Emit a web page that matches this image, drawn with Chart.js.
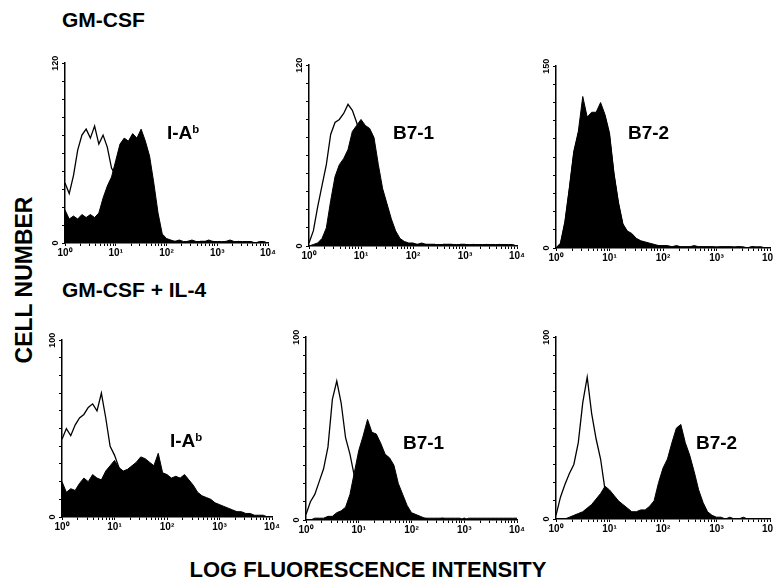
<!DOCTYPE html>
<html>
<head>
<meta charset="utf-8">
<script src="https://cdn.jsdelivr.net/npm/chart.js@4.4.1/dist/chart.umd.min.js"></script>
<style>
  html, body { margin: 0; padding: 0; background: #fff; overflow: hidden; }
  #figure { position: relative; width: 773px; height: 587px; font-family: 'Liberation Sans', Arial, sans-serif; color: #000; }
  #figure canvas { position: absolute; }
  .lbl { position: absolute; font-weight: bold; line-height: 1; white-space: nowrap; }
  .lbl sup { font-size: 0.6em; vertical-align: 0.55em; }
</style>
</head>
<body>
<div id="figure">
  <div class="lbl" style="left:62px; top:9px; font-size:21px;">GM-CSF</div>
  <div class="lbl" style="left:62px; top:279px; font-size:21px;">GM-CSF + IL-4</div>
  <div class="lbl" style="left:24px; top:280px; font-size:23px; transform: translate(-50%, -50%) rotate(-90deg);">CELL NUMBER</div>
  <div class="lbl" style="left:368px; top:559px; font-size:22px; transform: translateX(-50%);">LOG FLUORESCENCE INTENSITY</div>
</div>

<script>
// log decades on the x axis, 12 channels per decade
const decadeLabels = ['10⁰', '10¹', '10²', '10³', '10⁴'];
const binsPerDecade = 12;

const markerNames = ['I-A', 'B7-1', 'B7-2', 'I-A', 'B7-1', 'B7-2'];
const yMaxLabels = [120, 120, 150, 100, 100, 100];

// GM-CSF row
const gmIaFilled = [22,16,18,16,19,17,19,17,20,30,38,44,55,66,70,68,73,70,76,68,58,40,20,6,3,
  2,1,2,1,1,2,1,1,1,2,1,1,1,1,2,1,1,1,1,1,0,1,1,0];
const gmIaOpen = [40,33,45,62,72,76,70,78,66,72,64,50,45,35,25,18,12,8,5,3,2,
  1,1,1,1,1,1,1,0,1,1,0,1,1,0,1,0,0,1,0,0,1,0,0,0,0,0,0,0];
const gmB71Filled = [0,1,2,5,12,30,46,54,58,64,76,80,84,80,78,72,54,38,28,18,10,5,3,2,2,
  1,2,1,1,1,1,1,1,1,1,1,1,1,1,1,1,1,1,1,1,1,1,1,0];
const gmB71Open = [2,10,26,40,54,74,82,84,88,94,90,82,70,55,40,28,18,10,6,3,2,
  1,1,1,1,1,1,1,1,1,0,1,1,1,0,1,1,0,1,0,0,1,0,0,1,0,0,0,0];
const gmB72Filled = [0,4,22,50,80,96,125,108,112,112,120,110,95,62,38,20,14,12,8,6,5,4,3,2,2,
  2,1,2,1,1,1,2,1,1,1,1,1,1,1,1,1,1,1,0,1,1,1,0,0];
const gmB72Open = [0,3,20,48,78,94,110,104,108,110,116,108,92,60,36,19,13,11,7,5,4,3,2,2,1,
  1,1,1,1,1,1,1,1,1,1,1,0,1,1,1,0,1,0,0,1,0,0,0,0];

// GM-CSF + IL-4 row
const il4IaFilled = [20,14,16,15,19,22,20,24,22,21,26,29,32,28,26,27,29,31,34,33,31,29,36,25,24,
  22,23,22,24,21,18,14,12,11,10,8,7,6,5,4,3,3,2,2,1,1,1,0,0];
const il4IaOpen = [44,50,46,52,56,58,62,64,60,70,56,40,35,28,20,14,10,6,4,2,
  1,1,1,0,1,1,0,1,0,1,0,0,1,0,0,1,0,0,0,1,0,0,0,0,0,0,0,0,0];
const il4B71Filled = [0,0,1,1,1,2,2,4,5,7,14,26,38,46,55,48,47,42,36,34,30,20,14,8,4,
  3,2,1,1,1,1,1,1,1,1,1,0,1,1,1,1,1,1,1,1,1,1,1,1];
const il4B71Open = [3,10,14,21,28,40,66,76,64,45,36,24,14,8,5,3,2,
  1,1,1,0,1,1,0,1,0,0,1,0,0,0,1,0,0,0,0,1,0,0,0,0,0,0,0,0,0,0,0,0];
const il4B72Filled = [0,0,0,1,2,3,4,6,8,11,14,18,16,13,10,8,6,4,4,5,5,7,10,20,28,
  33,42,50,52,42,35,26,16,9,4,2,1,1,0,1,0,0,1,0,0,0,0,0,0];
const il4B72Open = [2,12,19,25,30,42,64,78,58,44,33,16,8,4,2,1,
  0,1,0,0,1,0,0,0,1,0,0,0,0,1,0,0,0,0,0,0,0,0,0,0,0,0,0,0,0,0,0,0,0];

const filledSeries = [gmIaFilled, gmB71Filled, gmB72Filled, il4IaFilled, il4B71Filled, il4B72Filled];
const openSeries = [gmIaOpen, gmB71Open, gmB72Open, il4IaOpen, il4B71Open, il4B72Open];

// plot area of each panel in page pixels: left, top, right, bottom
const panelBoxes = [
  [65, 61, 268, 243], [309, 63, 517, 246], [556, 64, 770, 248],
  [62, 338, 272, 517], [306, 335, 517, 520], [556, 335, 770, 519]
];
// where the marker name sits (left, top)
const markerPos = [[167, 123], [393, 123], [628, 123], [170, 431], [403, 433], [696, 433]];

const FONT = "'Liberation Sans', Arial, sans-serif";
Chart.defaults.font.family = FONT;
Chart.defaults.color = '#000';

const decadeValues = [1, 10, 100, 1000, 10000];
const tickValues = [];
for (let d = 0; d < 4; d++) {
    for (let m = 1; m < 10; m++) tickValues.push(m * decadeValues[d]);
}
tickValues.push(10000);

function toPoints(values) {
    return values.map((v, i) => ({ x: Math.pow(10, i / binsPerDecade), y: v }));
}

// rotated 0 / max labels on the y axis
const yEndLabels = {
    id: 'yEndLabels',
    afterDraw(chart, args, opts) {
        const ctx = chart.ctx;
        const y = chart.scales.y;
        const x0 = chart.chartArea.left - 9;
        ctx.save();
        ctx.fillStyle = '#000';
        ctx.font = 'bold 9px ' + FONT;
        ctx.textAlign = 'center';
        ctx.textBaseline = 'middle';
        [0, opts.max].forEach(v => {
            ctx.save();
            ctx.translate(x0, y.getPixelForValue(v));
            ctx.rotate(-Math.PI / 2);
            ctx.fillText(String(v), 0, 0);
            ctx.restore();
        });
        ctx.restore();
    }
};

const figure = document.getElementById('figure');

panelBoxes.forEach((box, p) => {
    const [L, T, R, B] = box;
    const canvas = document.createElement('canvas');
    canvas.width = R - L + 32;
    canvas.height = B - T + 28;
    canvas.style.left = (L - 20) + 'px';
    canvas.style.top = (T - 8) + 'px';
    figure.appendChild(canvas);

    const marker = document.createElement('div');
    marker.className = 'lbl';
    marker.style.left = markerPos[p][0] + 'px';
    marker.style.top = markerPos[p][1] + 'px';
    marker.style.fontSize = '19px';
    marker.innerHTML = markerNames[p] === 'I-A' ? 'I-A<sup>b</sup>' : markerNames[p];
    figure.appendChild(marker);

    const yMax = yMaxLabels[p];

    new Chart(canvas.getContext('2d'), {
        type: 'line',
        data: {
            datasets: [
                {
                    label: 'control',
                    data: toPoints(openSeries[p]),
                    borderColor: '#000',
                    borderWidth: 1.3,
                    fill: false
                },
                {
                    label: 'stained',
                    data: toPoints(filledSeries[p]),
                    borderColor: '#000',
                    backgroundColor: '#000',
                    borderWidth: 1,
                    fill: 'origin'
                }
            ]
        },
        options: {
            responsive: false,
            animation: false,
            devicePixelRatio: 1,
            layout: { padding: { left: 0, top: 8, right: 12, bottom: 0 } },
            elements: { point: { radius: 0 }, line: { tension: 0 } },
            plugins: {
                legend: { display: false },
                tooltip: { enabled: false },
                yEndLabels: { max: yMax }
            },
            scales: {
                x: {
                    type: 'logarithmic',
                    min: 1,
                    max: 10000,
                    border: { display: true, color: '#000', width: 1.5 },
                    grid: { display: true, drawOnChartArea: false, drawTicks: true, tickLength: 3, color: '#000', lineWidth: 1 },
                    ticks: {
                        autoSkip: false,
                        maxRotation: 0,
                        minRotation: 0,
                        padding: 1,
                        font: { size: 10, weight: 'bold' },
                        callback: (value) => {
                            const k = decadeValues.indexOf(value);
                            return k >= 0 ? decadeLabels[k] : '';
                        }
                    },
                    afterBuildTicks: (scale) => {
                        scale.ticks = tickValues.map(v => ({ value: v }));
                    },
                    afterFit: (scale) => { scale.height = 20; }
                },
                y: {
                    type: 'linear',
                    min: 0,
                    max: yMax,
                    border: { display: true, color: '#000', width: 1.5 },
                    grid: { display: true, drawOnChartArea: false, drawTicks: true, tickLength: 3, color: '#000', lineWidth: 1 },
                    ticks: { display: true, stepSize: yMax / 10, callback: () => '' },
                    afterFit: (scale) => { scale.width = 20; }
                }
            }
        },
        plugins: [yEndLabels]
    });
});
</script>
</body>
</html>
